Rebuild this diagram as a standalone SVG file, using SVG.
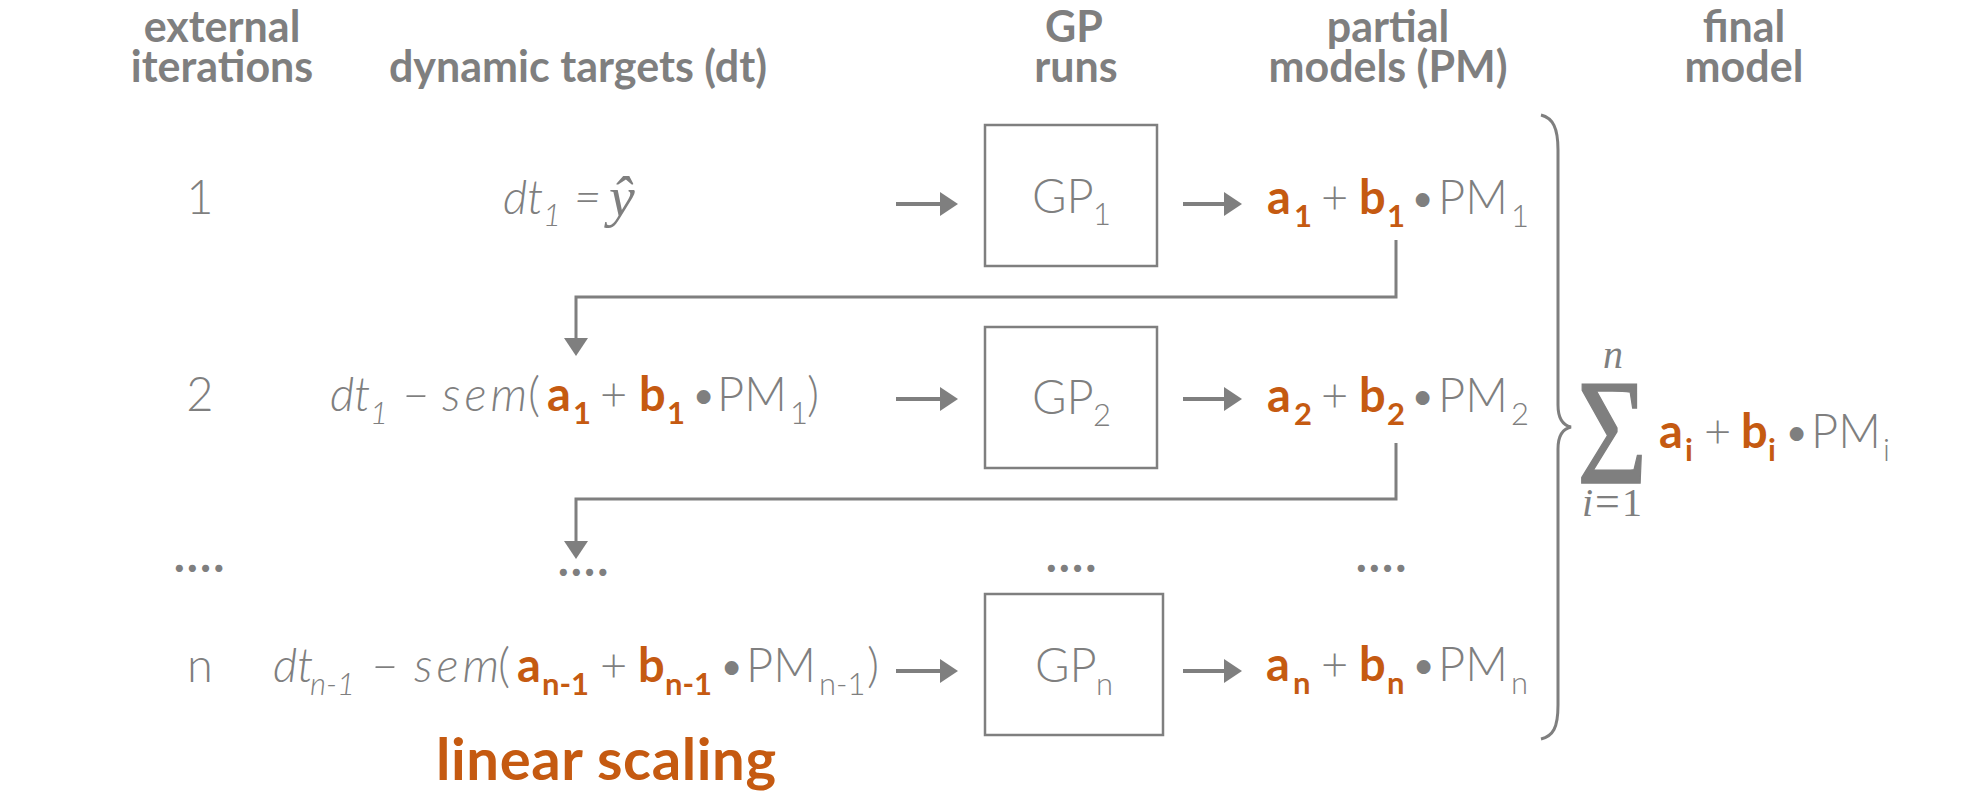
<svg xmlns="http://www.w3.org/2000/svg" width="1970" height="796" viewBox="0 0 1970 796">
  <defs>
    <style>
      .h { font-family: Lato, "Liberation Sans", sans-serif; font-weight: 700; font-size: 43px; fill: #7f7f7f; text-anchor: middle; }
      .t { font-family: Lato, "Liberation Sans", sans-serif; font-weight: 300; font-size: 47px; fill: #7f7f7f; }
      .it { font-style: italic; }
      .o { fill: #c55a11; font-weight: 700; }
      .s { font-size: 31px; }
      .num { text-anchor: middle; }
      .dots { font-weight: 700; letter-spacing: 2px; }
      .sem { letter-spacing: 4px; }
      .m { font-family: "Liberation Serif", "DejaVu Serif", serif; fill: #7f7f7f; }
      .ln { stroke: #7f7f7f; stroke-width: 3; fill: none; }
      .box { stroke: #7f7f7f; stroke-width: 2.5; fill: #ffffff; }
      .arr { stroke: #7f7f7f; stroke-width: 4; fill: none; }
      .label { font-family: Lato, "Liberation Sans", sans-serif; font-weight: 700; font-size: 58px; fill: #c55a11; }
    </style>
    <linearGradient id="rule" x1="0" y1="0" x2="1" y2="0">
      <stop offset="0" stop-color="#8c8c8c"/>
      <stop offset="0.08" stop-color="#262626"/>
      <stop offset="0.9" stop-color="#111111"/>
      <stop offset="1" stop-color="#555555"/>
    </linearGradient>
    <marker id="ah" viewBox="0 0 18 24" refX="0" refY="12" markerWidth="18" markerHeight="24" markerUnits="userSpaceOnUse" orient="auto">
      <path d="M0,0 L18,12 L0,24 Z" fill="#7f7f7f"/>
    </marker>
  </defs>

  <rect width="1970" height="796" fill="#ffffff"/>

  <!-- column headings -->
  <g id="headings">
    <text class="h" x="222" y="42">external</text>
    <text class="h" x="222" y="82">iterations</text>
    <text class="h" x="578" y="82">dynamic targets (dt)</text>
    <text class="h" x="1074" y="42">GP</text>
    <text class="h" x="1076" y="82">runs</text>
    <text class="h" x="1388" y="42">partial</text>
    <text class="h" x="1388" y="82">models (PM)</text>
    <text class="h" x="1744" y="42">final</text>
    <text class="h" x="1744" y="82">model</text>
    <line x1="13" y1="102" x2="1970" y2="102" stroke="url(#rule)" stroke-width="3"/>
  </g>

  <!-- iteration counters -->
  <g id="iterations">
    <text class="t num" x="200" y="214">1</text>
    <text class="t num" x="200" y="411">2</text>
    <text class="t num dots" x="200" y="572">....</text>
    <text class="t num" x="200" y="682">n</text>
  </g>

  <!-- dynamic targets -->
  <g id="target-1">
    <text class="t it" y="214"><tspan x="503">dt</tspan><tspan class="s" x="543" y="226">1</tspan><tspan x="574" y="214">=</tspan></text>
    <text class="m" x="609" y="216" font-size="58" font-style="italic">ŷ</text>
  </g>
  <g id="target-2">
    <text class="t" y="411"><tspan class="it" x="330">dt</tspan><tspan class="it s" x="370" y="424">1</tspan><tspan class="it" x="401" y="411" font-size="52">–</tspan><tspan class="it sem" x="442">sem</tspan><tspan x="528">(</tspan><tspan class="o" x="547">a</tspan><tspan class="o s" x="573" y="424">1</tspan><tspan x="600" y="411">+</tspan><tspan class="o" x="639">b</tspan><tspan class="o s" x="667" y="424">1</tspan><tspan x="690" y="411">•</tspan><tspan x="717">PM</tspan><tspan class="s" x="790" y="424">1</tspan><tspan x="807" y="411">)</tspan></text>
  </g>
  <g id="target-dots">
    <text class="t num dots" x="584" y="576">....</text>
  </g>
  <g id="target-n">
    <text class="t" y="682"><tspan class="it" x="273">dt</tspan><tspan class="it s" x="310" y="695">n-1</tspan><tspan class="it" x="370" y="682" font-size="52">–</tspan><tspan class="it sem" x="414">sem</tspan><tspan x="498">(</tspan><tspan class="o" x="517">a</tspan><tspan class="o s" x="542" y="695">n-1</tspan><tspan x="600" y="682">+</tspan><tspan class="o" x="638">b</tspan><tspan class="o s" x="665" y="695">n-1</tspan><tspan x="718" y="682">•</tspan><tspan x="746">PM</tspan><tspan class="s" x="819" y="695">n-1</tspan><tspan x="867" y="682">)</tspan></text>
  </g>
  <g id="linear-scaling">
    <text class="label" x="436" y="780" textLength="340">linear scaling</text>
  </g>

  <!-- GP runs -->
  <g id="gp-1">
    <rect class="box" x="985" y="125" width="172" height="141"/>
    <text class="t" y="213"><tspan x="1032">GP</tspan><tspan class="s" x="1093" y="225">1</tspan></text>
  </g>
  <g id="gp-2">
    <rect class="box" x="985" y="327" width="172" height="141"/>
    <text class="t" y="414"><tspan x="1032">GP</tspan><tspan class="s" x="1093" y="426">2</tspan></text>
  </g>
  <g id="gp-dots">
    <text class="t num dots" x="1072" y="572">....</text>
  </g>
  <g id="gp-n">
    <rect class="box" x="985" y="594" width="178" height="141"/>
    <text class="t" y="682"><tspan x="1035">GP</tspan><tspan class="s" x="1096" y="695">n</tspan></text>
  </g>

  <!-- partial models -->
  <g id="pm-1">
    <text class="t" y="214"><tspan class="o" x="1267">a</tspan><tspan class="o s" x="1294" y="227">1</tspan><tspan x="1321" y="214">+</tspan><tspan class="o" x="1359">b</tspan><tspan class="o s" x="1387" y="227">1</tspan><tspan x="1409" y="214">•</tspan><tspan x="1438">PM</tspan><tspan class="s" x="1511" y="227">1</tspan></text>
  </g>
  <g id="pm-2">
    <text class="t" y="412"><tspan class="o" x="1267">a</tspan><tspan class="o s" x="1294" y="425">2</tspan><tspan x="1321" y="412">+</tspan><tspan class="o" x="1359">b</tspan><tspan class="o s" x="1387" y="425">2</tspan><tspan x="1409" y="412">•</tspan><tspan x="1438">PM</tspan><tspan class="s" x="1511" y="425">2</tspan></text>
  </g>
  <g id="pm-dots">
    <text class="t num dots" x="1382" y="572">....</text>
  </g>
  <g id="pm-n">
    <text class="t" y="681"><tspan class="o" x="1266">a</tspan><tspan class="o s" x="1293" y="694">n</tspan><tspan x="1321" y="681">+</tspan><tspan class="o" x="1359">b</tspan><tspan class="o s" x="1387" y="694">n</tspan><tspan x="1410" y="681">•</tspan><tspan x="1438">PM</tspan><tspan class="s" x="1511" y="694">n</tspan></text>
  </g>

  <!-- final model: brace and sum -->
  <g id="final-model">
    <path class="ln" d="M1541,115 C1553,118 1558,128 1558,150 L1558,405 C1558,418 1562,425 1571,427 C1562,429 1558,436 1558,449 L1558,705 C1558,728 1553,736 1541,739"/>
    <text class="m" transform="translate(1577,483) scale(0.8,1)" x="0" y="0" font-size="151" stroke="#7f7f7f" stroke-width="1.5">Σ</text>
    <text class="m" x="1613" y="368" font-size="40" font-style="italic" text-anchor="middle">n</text>
    <text class="m" y="516" font-size="40"><tspan x="1582" font-style="italic">i</tspan><tspan x="1595" font-size="44">=</tspan><tspan x="1622">1</tspan></text>
    <text class="t" y="448"><tspan class="o" x="1659">a</tspan><tspan class="o s" x="1685" y="461">i</tspan><tspan x="1704" y="448">+</tspan><tspan class="o" x="1741">b</tspan><tspan class="o s" x="1768" y="461">i</tspan><tspan x="1783" y="448">•</tspan><tspan x="1811">PM</tspan><tspan class="s" x="1883" y="461">i</tspan></text>
  </g>

  <!-- connectors -->
  <g id="connectors">
    <line class="arr" x1="896" y1="204" x2="940" y2="204" marker-end="url(#ah)"/>
    <line class="arr" x1="896" y1="399" x2="940" y2="399" marker-end="url(#ah)"/>
    <line class="arr" x1="896" y1="671" x2="940" y2="671" marker-end="url(#ah)"/>
    <line class="arr" x1="1183" y1="204" x2="1224" y2="204" marker-end="url(#ah)"/>
    <line class="arr" x1="1183" y1="399" x2="1224" y2="399" marker-end="url(#ah)"/>
    <line class="arr" x1="1183" y1="671" x2="1224" y2="671" marker-end="url(#ah)"/>
    <path class="ln" d="M1396,240 V297 H576 V338" marker-end="url(#ah)"/>
    <path class="ln" d="M1396,443 V499 H576 V541" marker-end="url(#ah)"/>
  </g>
</svg>
